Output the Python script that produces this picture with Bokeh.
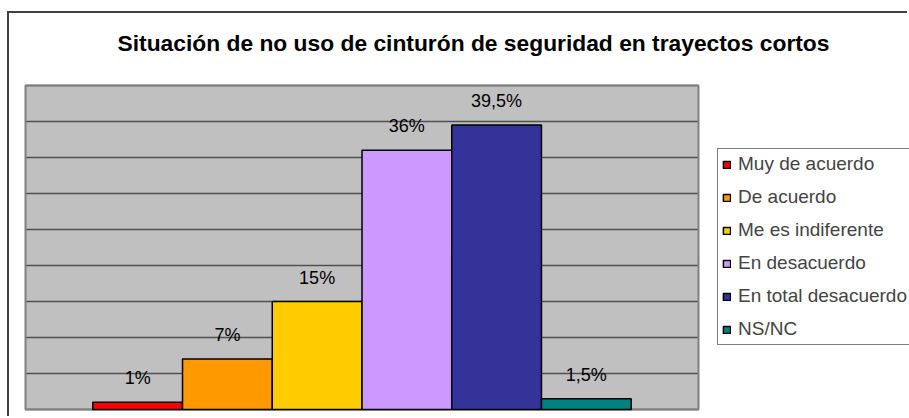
from bokeh.plotting import figure
from bokeh.models import ColumnDataSource, Range1d, LabelSet, Label, Legend, LegendItem
from bokeh.core.properties import value
from bokeh.embed import file_html
from bokeh.resources import INLINE

# ---- data ----
categories = ["Muy de acuerdo", "De acuerdo", "Me es indiferente",
              "En desacuerdo", "En total desacuerdo", "NS/NC"]
values = [1, 7, 15, 36, 39.5, 1.5]
value_labels = ["1%", "7%", "15%", "36%", "39,5%", "1,5%"]
colors = ["#FF0000", "#FF9900", "#FFCC00", "#CC99FF", "#333399", "#008080"]
y_ticks = [0, 5, 10, 15, 20, 25, 30, 35, 40, 45]
title_text = "Situación de no uso de cinturón de seguridad en trayectos cortos"

# ---- layout constants (pixels on the canvas) ----
GAP = 1.5                      # Excel gap width 150%
CANVAS_W, CANVAS_H = 900, 405
PA_LEFT, PA_RIGHT = 16, 689    # grey plot area
PA_TOP, PA_BOTTOM = 72, 396
TITLE_CX, TITLE_CY = 464, 29
LEGEND_X, LEGEND_Y = 708, 73   # legend bottom-left, from frame bottom-left

n = len(values)
xs = list(range(n))
x_start = -0.5 - GAP / 2
x_plot_end = n - 0.5 + GAP / 2
y_lo, y_hi = y_ticks[0], y_ticks[-1]

ppx = (PA_RIGHT - PA_LEFT) / (x_plot_end - x_start)
ppy = (PA_BOTTOM - PA_TOP) / (y_hi - y_lo)
xr0 = x_start - PA_LEFT / ppx
xr1 = xr0 + CANVAS_W / ppx
yr1 = y_hi + PA_TOP / ppy
yr0 = yr1 - CANVAS_H / ppy

src = ColumnDataSource(dict(x=xs, top=values, lab=value_labels,
                            color=colors, cat=categories))

FONT = "Liberation Sans"

p = figure(width=CANVAS_W, height=CANVAS_H, output_backend="svg", toolbar_location=None,
           title=None, x_axis_location=None, y_axis_location=None,
           x_range=Range1d(xr0, xr1), y_range=Range1d(yr0, yr1),
           min_border_left=0, min_border_right=0,
           min_border_top=0, min_border_bottom=0)

p.background_fill_color = "white"
p.border_fill_color = "white"
p.outline_line_color = None
p.grid.visible = False

# grey plot area
p.quad(left=[x_start], right=[x_plot_end], bottom=[y_lo], top=[y_hi],
       fill_color="#C0C0C0", line_color=None)
# horizontal gridlines
p.segment(x0=[x_start] * len(y_ticks), x1=[x_plot_end] * len(y_ticks),
          y0=y_ticks, y1=y_ticks, line_color="#505050", line_width=1.5)
# plot-area border
p.quad(left=[x_start], right=[x_plot_end], bottom=[y_lo], top=[y_hi],
       fill_color=None, line_color="#808080", line_width=2)

r = p.vbar(x="x", top="top", width=1, bottom=0, source=src,
           fill_color="color", line_color="black", line_width=1.5)

labels = LabelSet(x="x", y="top", text="lab", source=src,
                  text_align="center", text_baseline="alphabetic",
                  y_offset=18, text_font=value(FONT), text_font_size=value("18px"),
                  text_color=value("black"))
p.add_layout(labels)

title = Label(x=xr0 + TITLE_CX / ppx, y=yr1 - TITLE_CY / ppy, text=title_text,
              text_align="center", text_baseline="middle",
              text_font=FONT, text_font_size="22.8px", text_font_style="bold",
              text_color="black")
p.add_layout(title)

items = [LegendItem(label=c, renderers=[r], index=i) for i, c in enumerate(categories)]
legend = Legend(items=items, location=(LEGEND_X, LEGEND_Y),
                label_text_font=FONT, label_text_font_size="19px",
                label_height=20, glyph_width=9, glyph_height=9,
                label_standoff=7, spacing=11, padding=4, margin=0,
                border_line_color="black", border_line_width=1,
                background_fill_color="white", background_fill_alpha=1)
p.add_layout(legend, "center")

p.styles = {"border-left": "2px solid #404040", "border-top": "2px solid #404040",
            "margin-left": "7px", "margin-top": "11px"}

open("out.html", "w").write(file_html(p, INLINE))
